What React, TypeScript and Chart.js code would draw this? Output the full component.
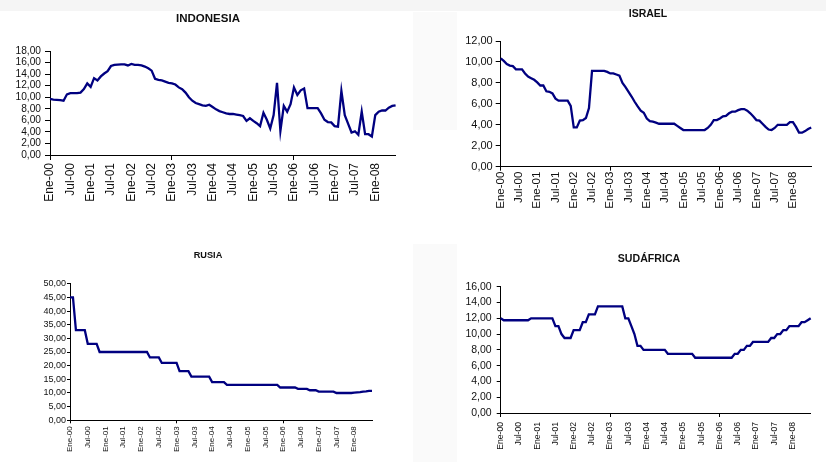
import React, { useEffect, useRef } from 'react';
import { Chart, registerables } from 'chart.js';

Chart.register(...registerables);

const MONTH_NAMES = ['Ene', 'Feb', 'Mar', 'Abr', 'May', 'Jun', 'Jul', 'Ago', 'Sep', 'Oct', 'Nov', 'Dic'];
const YEARS = ['00', '01', '02', '03', '04', '05', '06', '07', '08'];
const LAST_MONTH_2008 = 6; // Jul-08
const categories: string[] = [];
YEARS.forEach((yy, yi) => {
  MONTH_NAMES.forEach((mm, mi) => {
    if (yi === YEARS.length - 1 && mi > LAST_MONTH_2008) return;
    categories.push(`${mm}-${yy}`);
  });
});

const indonesia = [
  9.7, 9.6, 9.55, 9.5, 9.4, 10.5, 10.7, 10.7, 10.7, 10.8, 11.4, 12.4,
  11.8, 13.3, 12.9, 13.6, 14.1, 14.5, 15.4, 15.6, 15.65, 15.7, 15.7, 15.5,
  15.75, 15.6, 15.6, 15.5, 15.3, 15.0, 14.6, 13.2, 13.0, 12.9, 12.7, 12.5,
  12.4, 12.2, 11.7, 11.4, 10.8, 10.0, 9.4, 9.0, 8.8, 8.6, 8.5, 8.7,
  8.3, 7.9, 7.6, 7.4, 7.2, 7.1, 7.1, 7.0, 6.9, 6.75, 5.9, 6.35,
  5.9, 5.5, 5.0, 7.3, 6.1, 4.6, 6.9, 12.5, 4.15, 8.5, 7.5, 8.8,
  11.7, 10.4, 11.2, 11.5, 8.1, 8.1, 8.1, 8.1, 7.2, 6.1, 5.7, 5.65,
  5.0, 4.9, 11.1, 6.9, 5.4, 3.9, 4.1, 3.5, 7.5, 3.6, 3.6, 3.2,
  6.9, 7.5, 7.7, 7.7, 8.2, 8.5, 8.6,
];

const israel = [
  10.35, 10.1, 9.8, 9.65, 9.6, 9.3, 9.3, 9.3, 8.9, 8.6, 8.45, 8.3,
  8.05, 7.75, 7.75, 7.2, 7.15, 7.0, 6.5, 6.3, 6.3, 6.3, 6.3, 5.8,
  3.75, 3.75, 4.4, 4.45, 4.65, 5.6, 9.15, 9.15, 9.15, 9.15, 9.15, 9.05,
  8.9, 8.9, 8.8, 8.7, 8.0, 7.6, 7.15, 6.7, 6.2, 5.75, 5.35, 5.15,
  4.6, 4.35, 4.3, 4.2, 4.1, 4.1, 4.1, 4.1, 4.1, 4.1, 3.9, 3.7,
  3.5, 3.5, 3.5, 3.5, 3.5, 3.5, 3.5, 3.5, 3.7, 4.0, 4.45, 4.45,
  4.6, 4.8, 4.85, 5.1, 5.25, 5.25, 5.4, 5.5, 5.5, 5.35, 5.1, 4.8,
  4.45, 4.4, 4.1, 3.8, 3.55, 3.5, 3.7, 4.0, 4.0, 4.0, 4.0, 4.25,
  4.25, 3.8, 3.25, 3.25, 3.4, 3.6, 3.75,
];

const rusia = [
  45, 45, 33, 33, 33, 33, 28, 28, 28, 28, 25, 25,
  25, 25, 25, 25, 25, 25, 25, 25, 25, 25, 25, 25,
  25, 25, 25, 23, 23, 23, 23, 21, 21, 21, 21, 21,
  21, 18, 18, 18, 18, 16, 16, 16, 16, 16, 16, 16,
  14, 14, 14, 14, 14, 13, 13, 13, 13, 13, 13, 13,
  13, 13, 13, 13, 13, 13, 13, 13, 13, 13, 13, 12,
  12, 12, 12, 12, 12, 11.5, 11.5, 11.5, 11.5, 11, 11, 11,
  10.5, 10.5, 10.5, 10.5, 10.5, 10.5, 10, 10, 10, 10, 10, 10,
  10.1, 10.2, 10.3, 10.5, 10.6, 10.75, 10.8,
];

const sudafrica = [
  12, 11.75, 11.75, 11.75, 11.75, 11.75, 11.75, 11.75, 11.75, 11.75, 12, 12,
  12, 12, 12, 12, 12, 12, 11, 11, 10, 9.5, 9.5, 9.5,
  10.5, 10.5, 10.5, 11.5, 11.5, 12.5, 12.5, 12.5, 13.5, 13.5, 13.5, 13.5,
  13.5, 13.5, 13.5, 13.5, 13.5, 12, 12, 11, 10, 8.5, 8.5, 8,
  8, 8, 8, 8, 8, 8, 8, 7.5, 7.5, 7.5, 7.5, 7.5,
  7.5, 7.5, 7.5, 7.5, 7, 7, 7, 7, 7, 7, 7, 7,
  7, 7, 7, 7, 7, 7.5, 7.5, 8, 8, 8.5, 8.5, 9,
  9, 9, 9, 9, 9, 9.5, 9.5, 10, 10, 10.5, 10.5, 11,
  11, 11, 11, 11.5, 11.5, 11.75, 12,
];

const yMaxes = { indonesia: 18, israel: 12, rusia: 50, sudafrica: 16 };
const ySteps = { indonesia: 2, israel: 2, rusia: 5, sudafrica: 2 };
const titles = { indonesia: 'INDONESIA', israel: 'ISRAEL', rusia: 'RUSIA', sudafrica: 'SUDÁFRICA' };

const FONT = '"Liberation Sans", Arial, sans-serif';
const LINE_COLOR = '#000080';
const TEXT_COLOR = '#111111';

type PanelCfg = {
  key: string;
  data: number[];
  box: { l: number; t: number; w: number; h: number };
  yW: number;
  pad: { top: number; right: number; bottom: number };
  xH: number;
  yFont: number;
  xFont: number;
  yTickLen: number;
  yTickPad: number;
  xTickLen: number;
  xTickPad: number;
  title: { cx: number; cy: number; size: number };
};

const panels: PanelCfg[] = [
  {
    key: 'indonesia', data: indonesia,
    box: { l: 0, t: 0, w: 413, h: 232 },
    yW: 50, pad: { top: 51, right: 13, bottom: 27 }, xH: 50,
    yFont: 10.2, xFont: 12, yTickLen: 5, yTickPad: 4, xTickLen: 5, xTickPad: 3,
    title: { cx: 208, cy: 19, size: 11.5 },
  },
  {
    key: 'israel', data: israel,
    box: { l: 413, t: 0, w: 413, h: 232 },
    yW: 87.7, pad: { top: 41, right: 1, bottom: 15.3 }, xH: 50,
    yFont: 11, xFont: 11.5, yTickLen: 5, yTickPad: 3, xTickLen: 4, xTickPad: 1,
    title: { cx: 648, cy: 13, size: 10.5 },
  },
  {
    key: 'rusia', data: rusia,
    box: { l: 0, t: 240, w: 413, h: 222 },
    yW: 70, pad: { top: 43.7, right: 41, bottom: 6.7 }, xH: 35,
    yFont: 9, xFont: 8, yTickLen: 3, yTickPad: 1, xTickLen: 3, xTickPad: 3,
    title: { cx: 208, cy: 256, size: 9.2 },
  },
  {
    key: 'sudafrica', data: sudafrica,
    box: { l: 413, t: 240, w: 413, h: 222 },
    yW: 87.7, pad: { top: 46.7, right: 0.5, bottom: 4 }, xH: 45,
    yFont: 10.5, xFont: 8.6, yTickLen: 4, yTickPad: 5, xTickLen: 4, xTickPad: 5,
    title: { cx: 649, cy: 258, size: 10.6 },
  },
];

const fmt = (v: number) => Number(v).toFixed(2).replace('.', ',');

function PanelChart({ p }: { p: PanelCfg }) {
  const ref = useRef<HTMLCanvasElement>(null);
  useEffect(() => {
    if (!ref.current) return;
    const lastLabelIdx = 96;
    const chart = new Chart(ref.current, {
      type: 'line',
      data: {
        labels: categories,
        datasets: [
          {
            data: p.data,
            borderColor: LINE_COLOR,
            backgroundColor: LINE_COLOR,
            borderWidth: 2.3,
            pointRadius: 0,
            tension: 0,
            fill: false,
          },
        ],
      },
      options: {
        responsive: false,
        maintainAspectRatio: false,
        animation: false,
        layout: { padding: { left: 0, top: p.pad.top, right: p.pad.right, bottom: p.pad.bottom } },
        plugins: {
          legend: { display: false },
          tooltip: { enabled: false },
          title: { display: false },
        },
        scales: {
          x: {
            type: 'category',
            offset: false,
            grid: {
              display: true,
              drawOnChartArea: false,
              drawTicks: true,
              tickLength: p.xTickLen,
              color: '#000',
              tickColor: (ctx: any) => (ctx.index % 6 === 0 ? '#000' : 'rgba(0,0,0,0)'),
            },
            border: { display: true, color: '#000', width: 1 },
            ticks: {
              autoSkip: false,
              minRotation: 90,
              maxRotation: 90,
              padding: p.xTickPad,
              color: TEXT_COLOR,
              font: { family: FONT, size: p.xFont },
              callback: (_v: any, index: number) => {
                if (index % 6 !== 0) return null;
                if (index > lastLabelIdx) return '';
                return categories[index];
              },
            },
            afterFit: (s: any) => {
              s.height = p.xH;
            },
          },
          y: {
            min: 0,
            max: (yMaxes as any)[p.key],
            grid: {
              display: true,
              drawOnChartArea: false,
              drawTicks: true,
              tickLength: p.yTickLen,
              color: '#000',
              tickColor: '#000',
            },
            border: { display: true, color: '#000', width: 1 },
            ticks: {
              autoSkip: false,
              stepSize: (ySteps as any)[p.key],
              padding: p.yTickPad,
              color: TEXT_COLOR,
              font: { family: FONT, size: p.yFont },
              callback: (v: any) => fmt(v),
            },
            afterFit: (s: any) => {
              s.width = p.yW;
            },
          },
        },
      },
    });
    return () => chart.destroy();
  }, [p]);

  return (
    <canvas
      ref={ref}
      width={p.box.w}
      height={p.box.h}
      style={{ position: 'absolute', left: p.box.l, top: p.box.t, width: p.box.w, height: p.box.h }}
    />
  );
}

export default function App() {
  return (
    <div
      style={{
        position: 'fixed',
        left: 0,
        top: 0,
        width: 826,
        height: 462,
        background: '#ffffff',
        overflow: 'hidden',
        fontFamily: FONT,
      }}
    >
      <div style={{ position: 'absolute', left: 0, top: 0, width: 826, height: 11, background: '#f5f5f5' }} />
      <div style={{ position: 'absolute', left: 413, top: 12, width: 44, height: 118, background: '#fafafa' }} />
      <div style={{ position: 'absolute', left: 413, top: 244, width: 44, height: 218, background: '#fafafa' }} />
      {panels.map((p) => (
        <PanelChart key={p.key} p={p} />
      ))}
      {panels.map((p) => (
        <div
          key={'t-' + p.key}
          style={{
            position: 'absolute',
            left: p.title.cx - 100,
            width: 200,
            top: p.title.cy - p.title.size * 0.49,
            textAlign: 'center',
            fontFamily: FONT,
            fontWeight: 'bold',
            fontSize: p.title.size,
            lineHeight: `${p.title.size}px`,
            color: '#111',
            whiteSpace: 'nowrap',
          }}
        >
          {(titles as any)[p.key]}
        </div>
      ))}
    </div>
  );
}
